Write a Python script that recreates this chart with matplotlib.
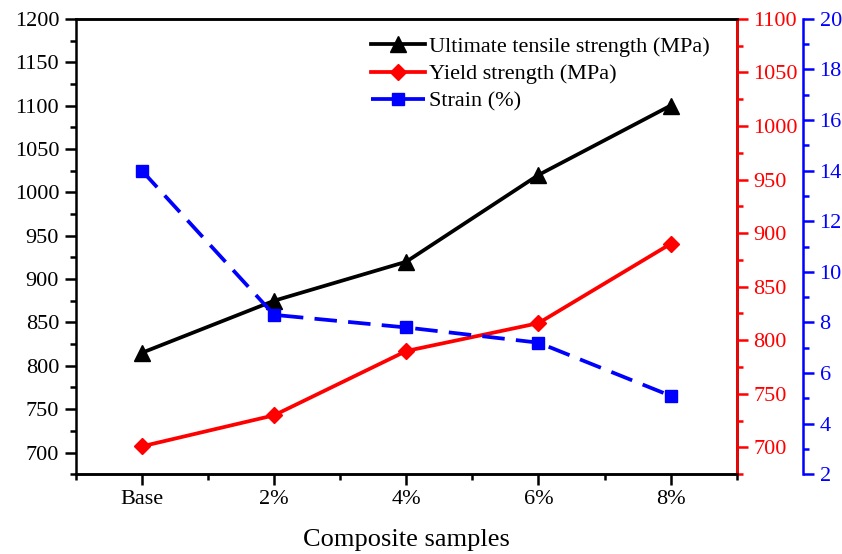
import matplotlib
matplotlib.use("Agg")
import matplotlib.pyplot as plt
from matplotlib.ticker import MultipleLocator

plt.rcParams['font.family'] = ['Liberation Serif', 'DejaVu Serif']
plt.rcParams['font.size'] = 16

samples = ['Base', '2%', '4%', '6%', '8%']
uts = [815, 875, 920, 1020, 1100]
yield_strength = [701, 730, 790, 816, 890]
strain = [14.0, 8.3, 7.8, 7.2, 5.1]

x = list(range(len(samples)))

fig = plt.figure(figsize=(8.42, 5.54), dpi=100)
ax = fig.add_axes([0.09, 0.144, 0.785, 0.822])
ax2 = ax.twinx()
ax3 = ax.twinx()
ax3.spines['right'].set_position(('axes', 1.1))

l1, = ax.plot(x, uts, color='black', lw=2.7, marker='^', ms=11,
              label='Ultimate tensile strength (MPa)')
l2, = ax2.plot(x, yield_strength, color='red', lw=2.7, marker='D', ms=8.5,
               label='Yield strength (MPa)')
l3, = ax3.plot(x, strain, color='blue', lw=2.7, ls=(0, (6, 3)), marker='s', ms=8.5,
               label='Strain (%)')

ax.set_xlim(-0.5, 4.5)
ax.set_ylim(675, 1200)
ax2.set_ylim(675, 1100)
ax3.set_ylim(2, 20)

ax.set_xticks(x)
ax.set_xticklabels(samples)
ax.xaxis.set_minor_locator(MultipleLocator(0.5))
ax.yaxis.set_major_locator(MultipleLocator(50))
ax.yaxis.set_minor_locator(MultipleLocator(25))
ax2.yaxis.set_major_locator(MultipleLocator(50))
ax2.yaxis.set_minor_locator(MultipleLocator(25))
ax3.yaxis.set_major_locator(MultipleLocator(2))
ax3.yaxis.set_minor_locator(MultipleLocator(1))

ax.set_xlabel('Composite samples', fontsize=19, labelpad=15)

for a in (ax, ax2, ax3):
    for s in a.spines.values():
        s.set_linewidth(1.8)
    a.tick_params(which='major', direction='out', length=8, width=1.8, pad=4)
    a.tick_params(which='minor', direction='out', length=4.5, width=1.8)

ax.tick_params(axis='x', which='both', top=False)
ax.tick_params(axis='x', which='major', pad=3)
ax.tick_params(axis='y', which='both', right=False)

ax2.spines['right'].set_color('red')
ax2.tick_params(axis='y', which='both', colors='red')
ax3.spines['right'].set_color('blue')
ax3.tick_params(axis='y', which='both', colors='blue')
ax3.spines['top'].set_visible(False)
ax3.spines['bottom'].set_visible(False)
ax3.spines['left'].set_visible(False)
ax2.spines['left'].set_visible(False)

leg = ax.legend(handles=[l1, l2, l3], loc='upper right', bbox_to_anchor=(0.983, 0.995),
                frameon=False, fontsize=16, handlelength=2.4, handletextpad=0.2,
                labelspacing=0.3, borderaxespad=0.3)

fig.savefig('out.png', dpi=100)
